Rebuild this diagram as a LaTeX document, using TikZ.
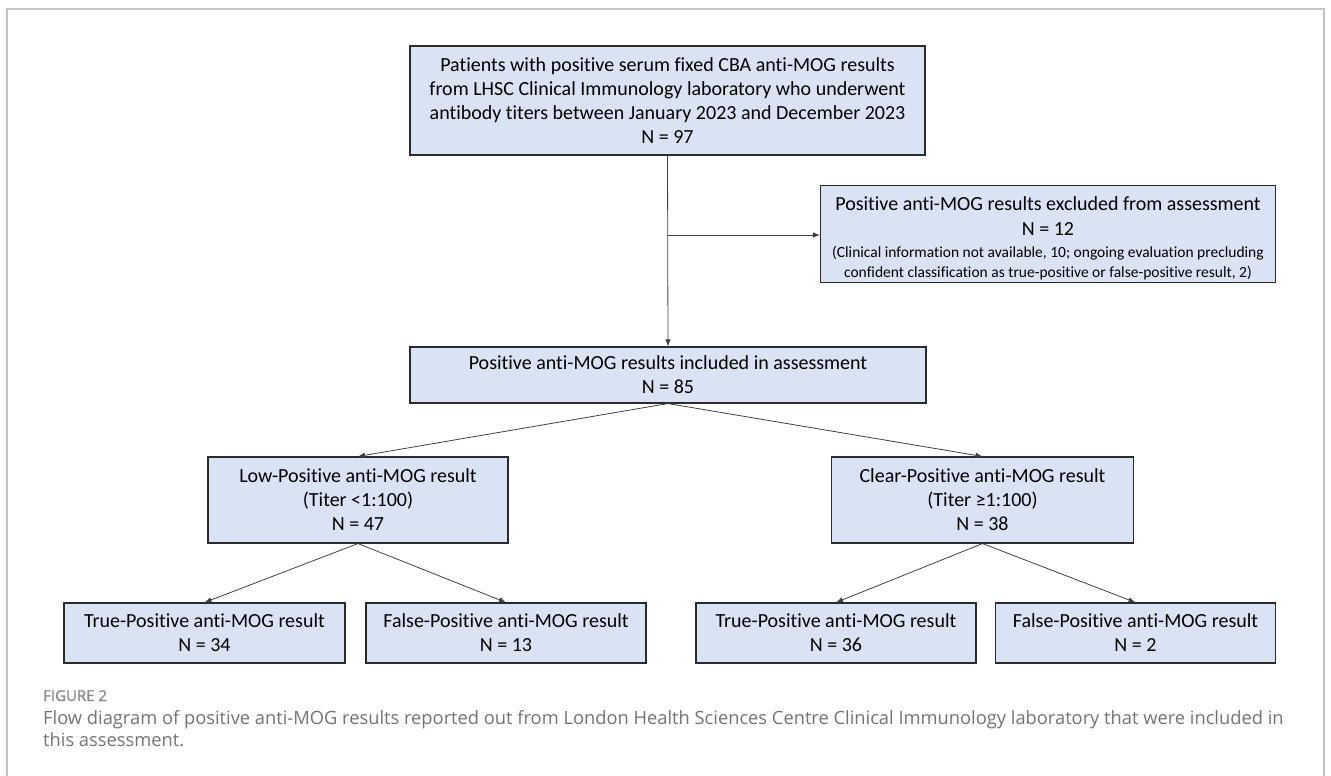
\documentclass[tikz,border=0pt]{standalone}
\usepackage{fontspec}
\setmainfont{Carlito}[Ligatures={NoCommon,NoContextual}]
\newfontfamily\capfont{Open Sans}
\newfontfamily\caplblfont{Open Sans}[FakeBold=1.2]
\usetikzlibrary{arrows.meta}
\definecolor{boxfill}{HTML}{DAE3F3}
\definecolor{boxline}{HTML}{2B2B2B}
\definecolor{conn}{HTML}{404040}
\definecolor{frame}{HTML}{C4C4C4}
\definecolor{captxt}{HTML}{737373}
\tikzset{
  box/.style={draw=boxline, line width=1.1pt, fill=boxfill, align=center, inner sep=0pt, font=\fontsize{20}{24}\selectfont},
  arr/.style={draw=conn, line width=0.8pt, -{Latex[length=7pt,width=5.5pt]}},
}
\begin{document}
\begin{tikzpicture}[x=1pt,y=-1pt]
\useasboundingbox (0,0) rectangle (1331,776);
\draw[frame, line width=1.5pt] (7,780) -- (7,9) -- (1324,9) -- (1324,780);

\node[box, minimum width=515pt, minimum height=109pt] (top) at (667.5,100.5)
  {Patients with positive serum fixed CBA anti-MOG results\\from LHSC Clinical Immunology laboratory who underwent\\antibody titers between January 2023 and December 2023\\N = 97};
\node[box, minimum width=455pt, minimum height=97pt] (excl) at (1048,234)
  {\rule{0pt}{22pt}Positive anti-MOG results excluded from assessment\\[1pt]N = 12\\[-2pt]{\fontsize{15.5}{20}\selectfont (Clinical information not available, 10; ongoing evaluation precluding}\\[-4pt]{\fontsize{15.5}{20}\selectfont confident classification as true-positive or false-positive result, 2)}};
\node[box, minimum width=516pt, minimum height=56pt] (incl) at (668,375)
  {Positive anti-MOG results included in assessment\\N = 85};
\node[box, minimum width=300pt, minimum height=86pt] (low) at (358,500)
  {Low-Positive anti-MOG result\\(Titer <1:100)\\N = 47};
\node[box, minimum width=302pt, minimum height=86pt] (clear) at (982.5,500)
  {Clear-Positive anti-MOG result\\(Titer ≥1:100)\\N = 38};
\node[box, minimum width=281pt, minimum height=60pt] (tp34) at (204.5,633)
  {True-Positive anti-MOG result\\N = 34};
\node[box, minimum width=280pt, minimum height=60pt] (fp13) at (506,633)
  {False-Positive anti-MOG result\\N = 13};
\node[box, minimum width=280pt, minimum height=60pt] (tp36) at (836,633)
  {True-Positive anti-MOG result\\N = 36};
\node[box, minimum width=280pt, minimum height=60pt] (fp2) at (1135.5,633)
  {False-Positive anti-MOG result\\N = 2};

\draw[arr] (top.south) -- (incl.north);
\coordinate (br) at (top.south |- 0,235);
\draw[arr] (br) -- (excl.west |- br);
\draw[arr] (incl.south) -- (low.north);
\draw[arr] (incl.south) -- (clear.north);
\draw[arr] (low.south) -- (tp34.north);
\draw[arr] (low.south) -- (fp13.north);
\draw[arr] (clear.south) -- (tp36.north);
\draw[arr] (clear.south) -- (fp2.north);

\node[anchor=base west, inner sep=0pt, text=captxt!85, font=\caplblfont\fontsize{15}{18}\selectfont] (figlbl) at (43,701) {FIGURE 2};
\node[anchor=base west, inner sep=0pt, text=captxt, align=left, font=\capfont\fontsize{18.3}{21.5}\selectfont] (cap) at (43,746)
  {Flow diagram of positive anti-MOG results reported out from London Health Sciences Centre Clinical Immunology laboratory that were included in\\this assessment.};
\end{tikzpicture}
\end{document}
